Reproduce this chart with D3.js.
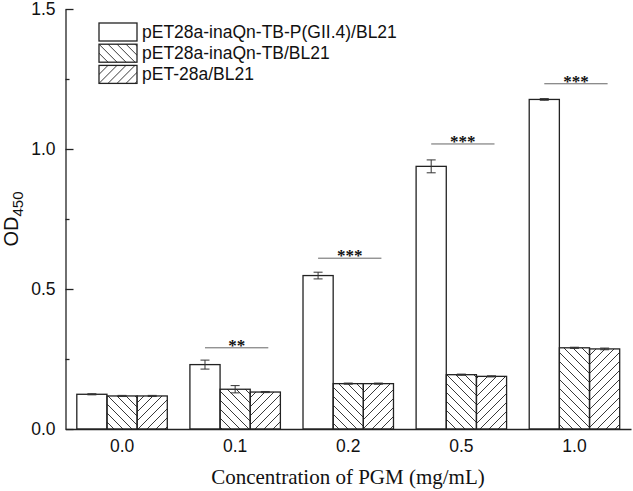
<!DOCTYPE html>
<html>
<head>
<meta charset="utf-8">
<script src="https://cdn.jsdelivr.net/npm/d3@7"></script>
<style>
  body { margin: 0; background: #fff; }
  svg { display: block; }
</style>
</head>
<body>
<svg id="area" width="633" height="491"></svg>
<script>
const categories = ['0.0', '0.1', '0.2', '0.5', '1.0'];
const seriesNames = ['pET28a-inaQn-TB-P(GII.4)/BL21', 'pET28a-inaQn-TB/BL21', 'pET-28a/BL21'];
const values1 = [0.124, 0.230, 0.548, 0.938, 1.177];
const err1 = [0.002, 0.016, 0.012, 0.023, 0.003];
const values2 = [0.118, 0.142, 0.162, 0.194, 0.290];
const err2 = [0.002, 0.013, 0.002, 0.002, 0.002];
const values3 = [0.118, 0.132, 0.162, 0.188, 0.286];
const err3 = [0.002, 0.002, 0.002, 0.002, 0.003];
const sigLabels = ['', '**', '***', '***', '***'];
const sigY = [null, 0.29, 0.61, 1.018, 1.233];
const yTicks = [0, 0.5, 1.0, 1.5];
const yMinorTicks = [0.25, 0.75, 1.25];

const svg = d3.select('#area');
const sans = 'Arial, "Liberation Sans", sans-serif';
const serif = '"Times New Roman", "Liberation Serif", serif';

const x = d3.scaleBand(categories, [65.5, 631]).paddingInner(0.2).paddingOuter(0.1);
const y = d3.scaleLinear([0, 1.5], [429, 9]);
const sub = d3.scaleBand([0, 1, 2], [0, x.bandwidth()]);

// hatch patterns
const defs = svg.append('defs');
[['back', 'M-2,-2L11,11M-2,7L2,11M7,-2L11,2'], ['fwd', 'M-2,11L11,-2M-2,2L2,-2M7,11L11,7']].forEach(([id, d]) => {
  defs.append('pattern')
    .attr('id', id)
    .attr('patternUnits', 'userSpaceOnUse')
    .attr('width', 9)
    .attr('height', 9)
    .append('path')
    .attr('d', d)
    .attr('stroke', '#222')
    .attr('stroke-width', 0.9);
});
const fills = ['#fff', 'url(#back)', 'url(#fwd)'];

const bars = [];
[values1, values2, values3].forEach((vals, s) => {
  const errs = [err1, err2, err3][s];
  vals.forEach((v, i) => bars.push({ cat: categories[i], s, v, e: errs[i] }));
});

// bars
svg.append('g')
  .selectAll('rect')
  .data(bars)
  .join('rect')
  .attr('x', (d) => x(d.cat) + sub(d.s))
  .attr('y', (d) => y(d.v))
  .attr('width', sub.bandwidth())
  .attr('height', (d) => y(0) - y(d.v))
  .attr('fill', (d) => fills[d.s])
  .attr('stroke', '#222')
  .attr('stroke-width', 1.3);

// error bars
const eb = svg.append('g')
  .attr('stroke', '#333')
  .attr('stroke-width', 1)
  .selectAll('g')
  .data(bars)
  .join('g')
  .attr('transform', (d) => `translate(${x(d.cat) + sub(d.s) + sub.bandwidth() / 2},0)`);
eb.append('line')
  .attr('y1', (d) => y(d.v - d.e))
  .attr('y2', (d) => y(d.v + d.e));
eb.append('line')
  .attr('x1', -4.5).attr('x2', 4.5)
  .attr('y1', (d) => y(d.v + d.e))
  .attr('y2', (d) => y(d.v + d.e));
eb.append('line')
  .attr('x1', -4.5).attr('x2', 4.5)
  .attr('y1', (d) => y(d.v - d.e))
  .attr('y2', (d) => y(d.v - d.e));

// significance
const sig = categories.map((c, i) => ({ c, y: sigY[i], t: sigLabels[i] })).filter((d) => d.y != null);
const sg = svg.append('g');
sg.selectAll('line')
  .data(sig)
  .join('line')
  .attr('x1', (d) => x(d.c) + sub(0) + sub.bandwidth() / 2)
  .attr('x2', (d) => x(d.c) + sub(2) + sub.bandwidth() / 2 + 3)
  .attr('y1', (d) => y(d.y))
  .attr('y2', (d) => y(d.y))
  .attr('stroke', '#666')
  .attr('stroke-width', 1);
sg.selectAll('text')
  .data(sig)
  .join('text')
  .attr('x', (d) => x(d.c) + x.bandwidth() / 2 + 1.5)
  .attr('y', (d) => y(d.y) + 3)
  .attr('text-anchor', 'middle')
  .style('font', `bold 17px ${serif}`)
  .attr('fill', '#111')
  .text((d) => d.t);

// y axis
const yAxis = svg.append('g')
  .attr('transform', 'translate(65.5,0)')
  .call(d3.axisLeft(y).tickValues(yTicks).tickFormat(d3.format('.1f')).tickSizeInner(-8).tickSizeOuter(0).tickPadding(10));
yAxis.append('g')
  .call(d3.axisLeft(y).tickValues(yMinorTicks).tickFormat('').tickSizeInner(-4).tickSizeOuter(0))
  .select('.domain').remove();
yAxis.selectAll('text').style('font', `17.5px ${sans}`).attr('fill', '#111');
yAxis.selectAll('line, path').attr('stroke', '#222').attr('stroke-width', 1.3);

// x axis
const xAxis = svg.append('g')
  .attr('transform', `translate(0,${y(0)})`)
  .call(d3.axisBottom(x).tickSize(0).tickPadding(11));
xAxis.selectAll('text').style('font', `17.5px ${sans}`).attr('fill', '#111');
xAxis.selectAll('path').attr('stroke', '#222').attr('stroke-width', 1.3);

// axis titles
svg.append('text')
  .attr('x', 348)
  .attr('y', 484)
  .attr('text-anchor', 'middle')
  .style('font', `21px ${serif}`)
  .attr('fill', '#111')
  .text('Concentration of PGM (mg/mL)');

const yt = svg.append('text')
  .attr('transform', 'translate(18,219) rotate(-90)')
  .attr('text-anchor', 'middle')
  .style('font', `20px ${sans}`)
  .attr('fill', '#111');
yt.append('tspan').text('OD');
yt.append('tspan').attr('dy', 5).style('font-size', '15px').text('450');

// legend
const lg = svg.append('g')
  .selectAll('g')
  .data(seriesNames)
  .join('g')
  .attr('transform', (d, i) => `translate(99,${23 + i * 21.2})`);
lg.append('rect')
  .attr('width', 38)
  .attr('height', 18)
  .attr('fill', (d, i) => fills[i])
  .attr('stroke', '#222')
  .attr('stroke-width', 1.3);
lg.append('text')
  .attr('x', 43)
  .attr('y', 14.5)
  .style('font', `17.5px ${sans}`)
  .attr('fill', '#111')
  .text((d) => d);
</script>
</body>
</html>
